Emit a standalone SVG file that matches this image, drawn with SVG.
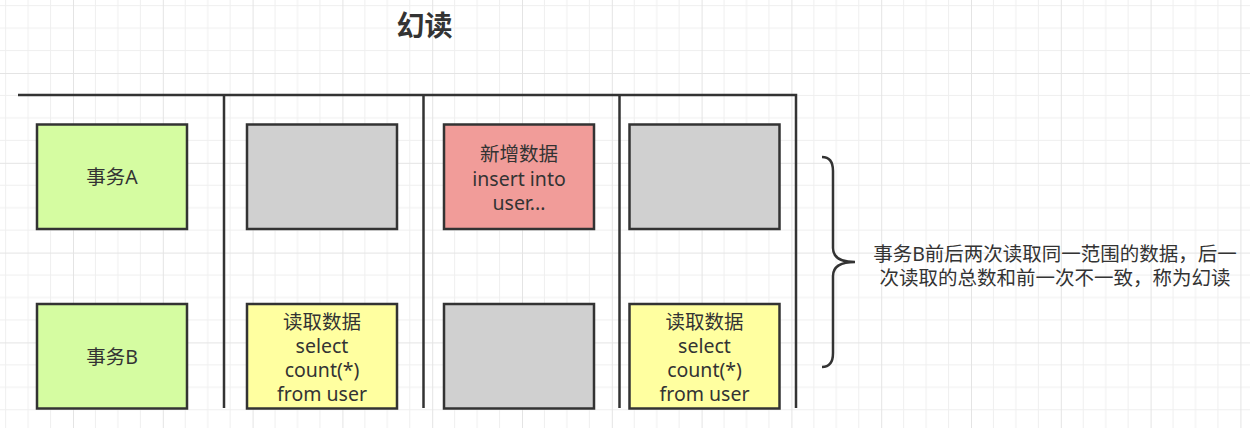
<svg xmlns="http://www.w3.org/2000/svg" width="1250" height="428" viewBox="0 0 1250 428">
  <defs>
    <pattern id="grid" x="73" y="73" width="89.8" height="89.8" patternUnits="userSpaceOnUse">
      <path d="M22.45 0V89.8M44.9 0V89.8M67.35 0V89.8M0 22.45H89.8M0 44.9H89.8M0 67.35H89.8" stroke="#efefef" stroke-width="1" fill="none"/>
      <path d="M0.5 0V89.8M0 0.5H89.8" stroke="#e4e4e4" stroke-width="1" fill="none"/>
    </pattern>
    <style>
      .box { stroke: #333333; stroke-width: 2.5; }
      .green { fill: #d5fca1; }
      .gray { fill: #d0d0d0; }
      .red { fill: #f19c99; }
      .yellow { fill: #ffffa0; }
      .lbl { font-family: "Noto Sans", "Noto Sans CJK SC", sans-serif; font-size: 19.5px; fill: #333333; text-anchor: middle; dominant-baseline: central; }
      .title { font-family: "Noto Sans CJK SC", sans-serif; font-size: 28px; font-weight: bold; fill: #333333; text-anchor: middle; dominant-baseline: central; }
      .line { stroke: #333333; stroke-width: 2.5; fill: none; }
    </style>
  </defs>
  <rect x="0" y="0" width="1250" height="428" fill="#ffffff"/>
  <rect x="0" y="0" width="1250" height="428" fill="url(#grid)"/>

  <text class="title" x="424.5" y="24">幻读</text>

  <g id="connectors">
    <path class="line" d="M18 95H796V408"/>
    <path class="line" d="M224 95V408"/>
    <path class="line" d="M423.5 95V408"/>
    <path class="line" d="M619.5 95V408"/>
    <path class="line" d="M822 157Q833 157 833 171V248Q833 262 855 262Q833 262 833 276V353Q833 367 822 367"/>
  </g>

  <g id="txA">
    <rect class="box green" x="37" y="124.5" width="150" height="104.5"/>
    <text class="lbl" x="112" y="176.5">事务A</text>
  </g>
  <g id="txB">
    <rect class="box green" x="37" y="304" width="150" height="104.5"/>
    <text class="lbl" x="112" y="356">事务B</text>
  </g>
  <g id="a2">
    <rect class="box gray" x="247" y="124.5" width="150" height="104.5"/>
  </g>
  <g id="b2">
    <rect class="box yellow" x="247" y="304" width="150" height="104.5"/>
    <text class="lbl" x="322" y="321">读取数据<tspan x="322" dy="24">select</tspan><tspan x="322" dy="24">count(*)</tspan><tspan x="322" dy="24">from user</tspan></text>
  </g>
  <g id="a3">
    <rect class="box red" x="444" y="124.5" width="150" height="104.5"/>
    <text class="lbl" x="519" y="153">新增数据<tspan x="519" dy="24.5">insert into</tspan><tspan x="519" dy="24.5">user...</tspan></text>
  </g>
  <g id="b3">
    <rect class="box gray" x="444" y="304" width="150" height="104.5"/>
  </g>
  <g id="a4">
    <rect class="box gray" x="629.5" y="124.5" width="150" height="104.5"/>
  </g>
  <g id="b4">
    <rect class="box yellow" x="629.5" y="304" width="150" height="104.5"/>
    <text class="lbl" x="704.5" y="321">读取数据<tspan x="704.5" dy="24">select</tspan><tspan x="704.5" dy="24">count(*)</tspan><tspan x="704.5" dy="24">from user</tspan></text>
  </g>
  <g id="note">
    <text class="lbl" x="1055" y="253">事务B前后两次读取同一范围的数据，后一<tspan x="1055" dy="23.5">次读取的总数和前一次不一致，称为幻读</tspan></text>
  </g>
</svg>
